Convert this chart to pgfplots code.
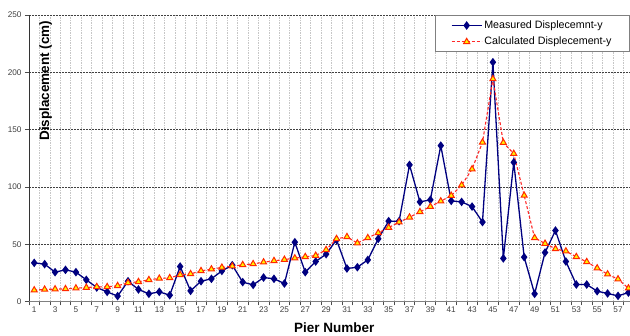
\documentclass[border=0pt]{standalone}
\usepackage{pgfplots}
\pgfplotsset{compat=1.18}
\usepackage{fontspec}
\setmainfont{Liberation Sans}
\definecolor{navyc}{RGB}{0,0,128}
\definecolor{calcred}{RGB}{255,40,40}
\definecolor{trired}{RGB}{255,40,0}
\begin{document}
\begin{tikzpicture}
\begin{axis}[
  scale only axis, width=601pt, height=286.5pt,
  at={(0,0)}, anchor=south west,
  xmin=0.5, xmax=58.15, ymin=0, ymax=250,
  axis x line*=bottom, axis y line*=left,
  x axis line style={-, draw=gray, line width=1pt},
  y axis line style={-, draw=black!80, line width=0.6pt},
  tick align=outside,
  major tick length=4pt,
  tick style={draw=black!70, line width=0.5pt},
  xtick={0.5,1.5,...,57.5}, xticklabels={},
  xmajorgrids, x grid style={gray!45, dash pattern=on 1.5pt off 1pt, line width=0.5pt},
  extra x ticks={1,3,...,57},
  extra x tick style={grid=none, major tick length=0pt},
  ytick={0,50,...,250},
  ymajorgrids, y grid style={black!75, dash pattern=on 2pt off 1pt, line width=0.5pt},
  /pgf/number format/assume math mode=true,
  tick label style={font=\fontsize{8.2}{9}\selectfont, text=black!75},
  xticklabel style={yshift=-2pt},
  xlabel={Pier Number},
  xlabel style={at={(axis description cs:0.508,0)}, anchor=center, yshift=-26.5pt, font=\bfseries\fontsize{13.5}{15}\selectfont},
  ylabel={Displacement (cm)},
  ylabel style={at={(axis description cs:0.0275,0.771)}, anchor=center, font=\bfseries\fontsize{13.5}{15}\selectfont},
  legend style={at={(1,1)}, anchor=north east, draw=gray, line width=0.8pt, fill=white,
    font=\fontsize{10.7}{12}\selectfont, inner xsep=16pt, inner ysep=3.5pt, row sep=3pt},
  legend cell align=left,
  legend image code/.code={\draw[mark repeat=2,mark phase=2] plot coordinates {(0pt,0pt) (15pt,0pt) (30pt,0pt)};},
]
\addplot[navyc, line width=1.3pt, mark=diamond*, mark size=3.3pt, mark options={solid, fill=navyc, draw=navyc}] coordinates {
(1,33.7) (2,32.6) (3,25.6) (4,27.6) (5,25.6) (6,18.9) (7,12.2) (8,8.4) (9,4.7) (10,17.7)
(11,10.5) (12,6.7) (13,8.4) (14,5.5) (15,30.5) (16,9.3) (17,17.7) (18,19.8) (19,26.7) (20,31.7)
(21,16.9) (22,14.5) (23,20.9) (24,19.8) (25,15.7) (26,51.7) (27,25.6) (28,34.9) (29,41.3) (30,53.8)
(31,28.8) (32,29.9) (33,36.3) (34,54.7) (35,70.1) (36,70.1) (37,119.2) (38,86.9) (39,88.7) (40,136)
(41,87.8) (42,86.9) (43,82.8) (44,69.3) (45,208.8) (46,37.6) (47,121.4) (48,38.7) (49,6.7) (50,42.7)
(51,61.9) (52,34.9) (53,14.8) (54,14.8) (55,9.0) (56,7.0) (57,4.9) (58,7.8)
};
\addlegendentry{Measured Displecemnt-y}
\addplot[calcred, line width=1.1pt, dash pattern=on 3pt off 2pt, mark=triangle*, mark size=3.5pt, mark options={solid, fill=yellow, draw=trired, line width=1pt}] coordinates {
(1,9.9) (2,10.5) (3,10.8) (4,11.0) (5,11.6) (6,12.2) (7,12.8) (8,12.8) (9,13.7) (10,16.3)
(11,17.2) (12,18.9) (13,20.1) (14,20.6) (15,23.3) (16,24.1) (17,26.7) (18,28.2) (19,29.7) (20,30.8)
(21,32.0) (22,32.8) (23,34.3) (24,35.5) (25,36.6) (26,37.8) (27,39.0) (28,40.1) (29,45.1) (30,54.7)
(31,56.4) (32,50.9) (33,55.5) (34,59.9) (35,64.5) (36,69.2) (37,73.5) (38,78.2) (39,82.8) (40,87.5)
(41,92.4) (42,101.5) (43,115.5) (44,138.9) (45,194.2) (46,138.6) (47,129.0) (48,92.5) (49,55.5) (50,50.6)
(51,45.9) (52,43.9) (53,39.0) (54,34.6) (55,29.1) (56,23.8) (57,19.5) (58,11.6)
};
\addlegendentry{Calculated Displecement-y}
\end{axis}
\pgfresetboundingbox
\path[use as bounding box] (-29pt,-34.5pt) rectangle (601pt,301.5pt);
\end{tikzpicture}
\end{document}
